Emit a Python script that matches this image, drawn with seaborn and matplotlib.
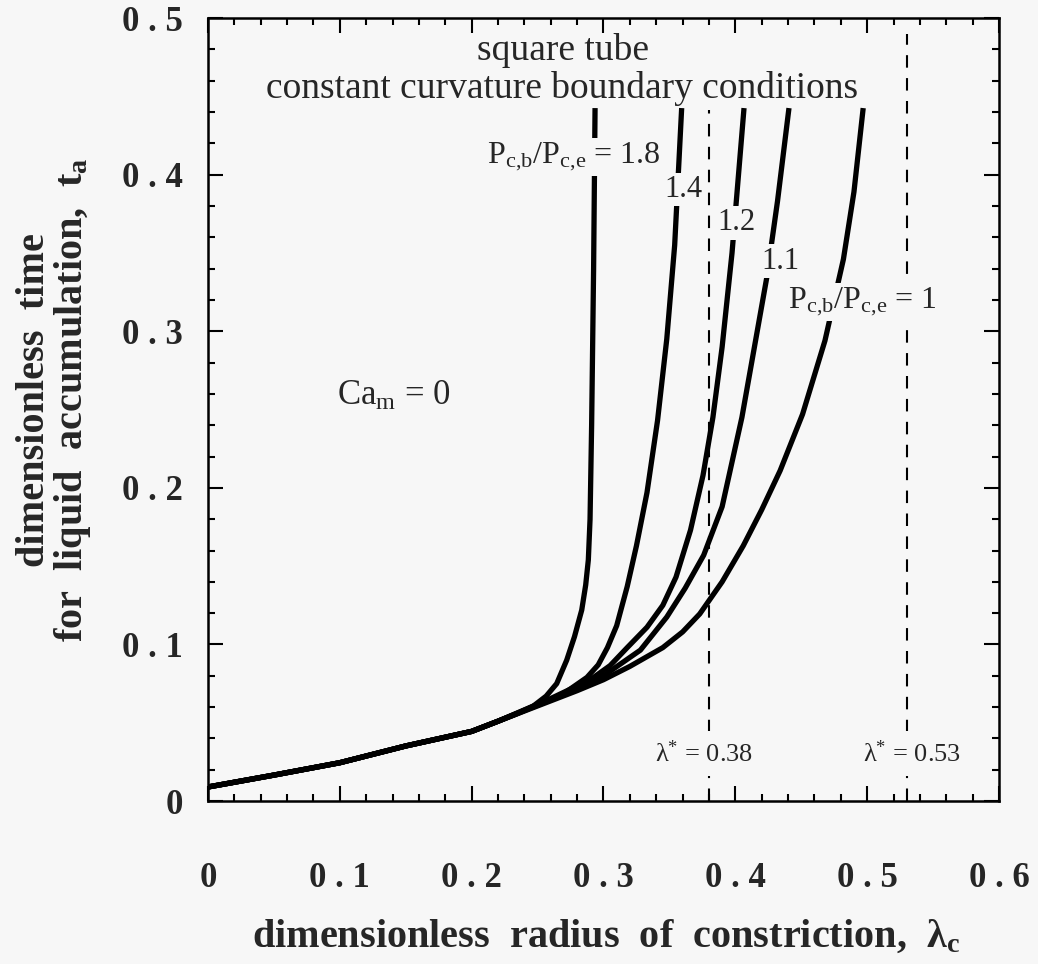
import numpy as np
import pandas as pd
import matplotlib
matplotlib.use("Agg")
import matplotlib.pyplot as plt
import seaborn as sns

# ---------------- data ----------------
lam_common = [0.0, 0.05, 0.10, 0.15, 0.20, 0.22]
t_common = [0.009, 0.0166, 0.0245, 0.0352, 0.0445, 0.0510]

lam_18 = [0.235, 0.2465, 0.2565, 0.2645, 0.2721, 0.278, 0.2835, 0.2865, 0.2885, 0.2898, 0.291, 0.2925, 0.2936]
t_18 = [0.056, 0.0605, 0.067, 0.075, 0.090, 0.105, 0.122, 0.138, 0.154, 0.18, 0.24, 0.34, 0.4425]

lam_14 = [0.245, 0.267, 0.2875, 0.296, 0.303, 0.310, 0.318, 0.325, 0.333, 0.341, 0.348, 0.354, 0.3593]
t_14 = [0.0595, 0.067, 0.079, 0.087, 0.098, 0.112, 0.137, 0.163, 0.197, 0.243, 0.295, 0.355, 0.4425]

lam_12 = [0.26, 0.29, 0.305, 0.318, 0.333, 0.345, 0.355, 0.366, 0.3755, 0.383, 0.390, 0.3975, 0.4066]
t_12 = [0.0655, 0.0775, 0.0865, 0.098, 0.111, 0.125, 0.143, 0.173, 0.208, 0.245, 0.29, 0.350, 0.4425]

lam_11 = [0.26, 0.28, 0.30, 0.328, 0.348, 0.362, 0.376, 0.390, 0.405, 0.4238, 0.432, 0.4407]
t_11 = [0.065, 0.072, 0.080, 0.0964, 0.1175, 0.136, 0.157, 0.188, 0.245, 0.334, 0.383, 0.4425]

lam_10 = [0.24, 0.26, 0.28, 0.30, 0.32, 0.345, 0.36, 0.373, 0.39, 0.406, 0.42, 0.434,
          0.451, 0.468, 0.482, 0.490, 0.497]
t_10 = [0.0575, 0.064, 0.0705, 0.0775, 0.086, 0.098, 0.108, 0.1195, 0.140, 0.163, 0.186, 0.211,
        0.247, 0.294, 0.346, 0.389, 0.4425]

ratios = ["1.8", "1.4", "1.2", "1.1", "1"]
lam_star = [0.38, 0.53]
star_top = [0.441, 0.49]

x_ticks = [0.0, 0.1, 0.2, 0.3, 0.4, 0.5, 0.6]
x_ticklabels = ["0", "0 . 1", "0 . 2", "0 . 3", "0 . 4", "0 . 5", "0 . 6"]
y_ticks = [0.0, 0.1, 0.2, 0.3, 0.4, 0.5]
y_ticklabels = ["0", "0 . 1", "0 . 2", "0 . 3", "0 . 4", "0 . 5"]

# ---------------- build table ----------------
frames = []
for name, lx, ty in zip(ratios, [lam_18, lam_14, lam_12, lam_11, lam_10],
                        [t_18, t_14, t_12, t_11, t_10]):
    frames.append(pd.DataFrame({"lam": lam_common + lx, "t": t_common + ty, "ratio": name}))
df = pd.concat(frames, ignore_index=True)

# ---------------- style ----------------
bg = "#f7f7f7"
sns.set_theme(style="ticks")
plt.rcParams["font.family"] = ["Liberation Serif", "DejaVu Serif"]
plt.rcParams["mathtext.fontset"] = "custom"
plt.rcParams["mathtext.rm"] = "Liberation Serif"
plt.rcParams["mathtext.it"] = "Liberation Serif:italic"
plt.rcParams["mathtext.bf"] = "Liberation Serif:bold"

fig = plt.figure(figsize=(10.38, 9.64), dpi=100, facecolor=bg)
ax = fig.add_axes([0.2004, 0.169, 0.762, 0.8123])
ax.set_facecolor(bg)

sns.lineplot(data=df, x="lam", y="t", units="ratio", estimator=None, sort=False,
             color="black", linewidth=3.8, ax=ax, legend=False,
             solid_capstyle="butt", solid_joinstyle="round", zorder=2)

ax.vlines(lam_star, 0, star_top, colors="black", linewidth=1.5,
          linestyles=[(0, (6, 5))], zorder=3)

ax.set_xlim(0, 0.6)
ax.set_ylim(0, 0.5)
ax.set_xticks(x_ticks)
ax.set_xticklabels(x_ticklabels, fontsize=25, fontweight="bold")
ax.set_yticks(y_ticks)
ax.set_yticklabels(y_ticklabels, fontsize=25, fontweight="bold")
ax.set_xticks(np.arange(0, 0.6001, 0.02), minor=True)
ax.set_yticks(np.arange(0, 0.5001, 0.02), minor=True)
ax.tick_params(which="both", direction="in", top=True, right=True, color="black", width=1.5)
ax.tick_params(which="major", length=11)
ax.tick_params(which="minor", length=5)
ax.tick_params(axis="x", which="major", pad=44)
ax.tick_params(axis="y", which="major", pad=18)
for s in ax.spines.values():
    s.set_linewidth(1.8)
    s.set_color("black")

ax.set_xlabel(r"dimensionless  radius  of  constriction,  λ$_{\mathbf{c}}$",
              fontsize=29, fontweight="bold")
ax.xaxis.set_label_coords(0.503, -0.150)
ax.set_ylabel("dimensionless  time\n" + r"for  liquid  accumulation,  t$_{\mathbf{a}}$",
              fontsize=29, fontweight="bold", linespacing=0.95)
ax.yaxis.set_label_coords(-0.146, 0.512)

box = dict(boxstyle="square,pad=0.08", fc=bg, ec="none")
ax.text(0.2693, 0.479, "square tube", fontsize=27, ha="center", va="center", zorder=5)
ax.text(0.2685, 0.455, "constant curvature boundary conditions", fontsize=27,
        ha="center", va="center", zorder=5)
ax.text(0.343, 0.4074, r"P$_{\mathrm{c{,}b}}$/P$_{\mathrm{c{,}e}}$ = 1.8", fontsize=23,
        ha="right", va="baseline", bbox=box, zorder=5)
ax.text(0.361, 0.3857, "1.4", fontsize=22, ha="center", va="baseline", bbox=box, zorder=5)
ax.text(0.4005, 0.3646, "1.2", fontsize=22, ha="center", va="baseline", bbox=box, zorder=5)
ax.text(0.434, 0.340, "1.1", fontsize=22, ha="center", va="baseline", bbox=box, zorder=5)
ax.text(0.440, 0.3148, r"P$_{\mathrm{c{,}b}}$/P$_{\mathrm{c{,}e}}$ = 1", fontsize=23,
        ha="left", va="baseline", bbox=box, zorder=5)
ax.text(0.098, 0.253, r"Ca$_{\mathrm{m}}$ = 0", fontsize=25, ha="left", va="baseline", zorder=5)
for xs in lam_star:
    ax.text(xs - 0.004 if xs < 0.5 else xs + 0.004, 0.0249,
            r"λ$^{*}$ = " + f"{xs:.2f}", fontsize=19, ha="center", va="baseline",
            bbox=dict(boxstyle="square,pad=0.35", fc=bg, ec="none"), zorder=5)

fig.savefig("out.png", dpi=100, facecolor=bg)
